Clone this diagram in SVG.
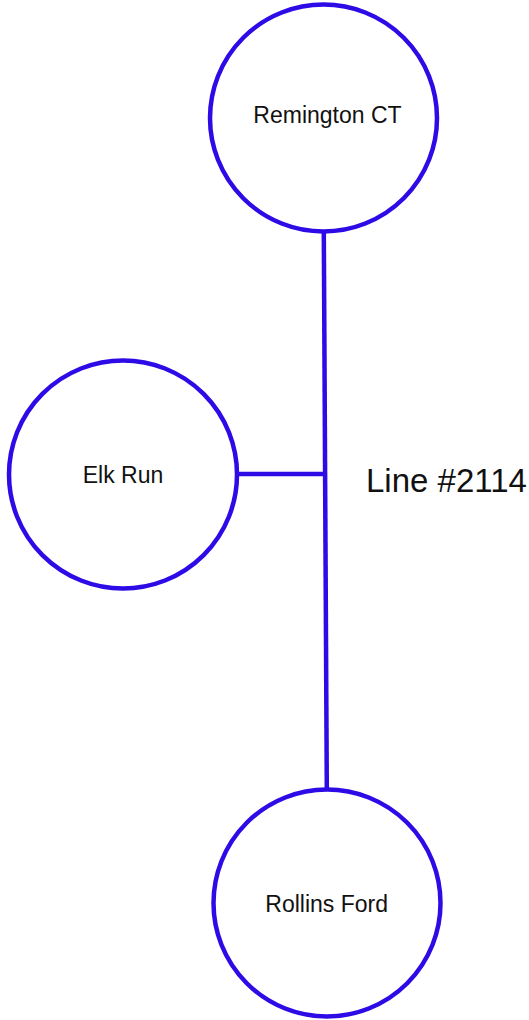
<svg xmlns="http://www.w3.org/2000/svg" width="529" height="1020" viewBox="0 0 529 1020">
<style>
.node{fill:#ffffff;stroke:#2D0BE6;stroke-width:4.5}
.edge{stroke:#2D0BE6;stroke-width:4.5;fill:none}
.lbl{font-family:"Liberation Sans",Arial,sans-serif;font-size:23px;fill:#111111;text-anchor:middle}
.big{font-family:"Liberation Sans",Arial,sans-serif;font-size:33px;fill:#111111}
</style>
<rect width="529" height="1020" fill="#ffffff"/>
<g id="connectors">
<line class="edge" x1="323.8" y1="232" x2="326.8" y2="789"/>
<line class="edge" x1="236" y1="474" x2="325.2" y2="474"/>
</g>
<g id="remington-ct">
<circle class="node" cx="323.5" cy="118" r="113.5"/>
<text class="lbl" x="327.5" y="123">Remington CT</text>
</g>
<g id="elk-run">
<circle class="node" cx="123" cy="474.5" r="114"/>
<text class="lbl" x="123" y="483">Elk Run</text>
</g>
<g id="rollins-ford">
<circle class="node" cx="327" cy="903" r="113.5"/>
<text class="lbl" x="326.7" y="912">Rollins Ford</text>
</g>
<g id="line-label">
<text class="big" x="366" y="492">Line #2114</text>
</g>
</svg>
